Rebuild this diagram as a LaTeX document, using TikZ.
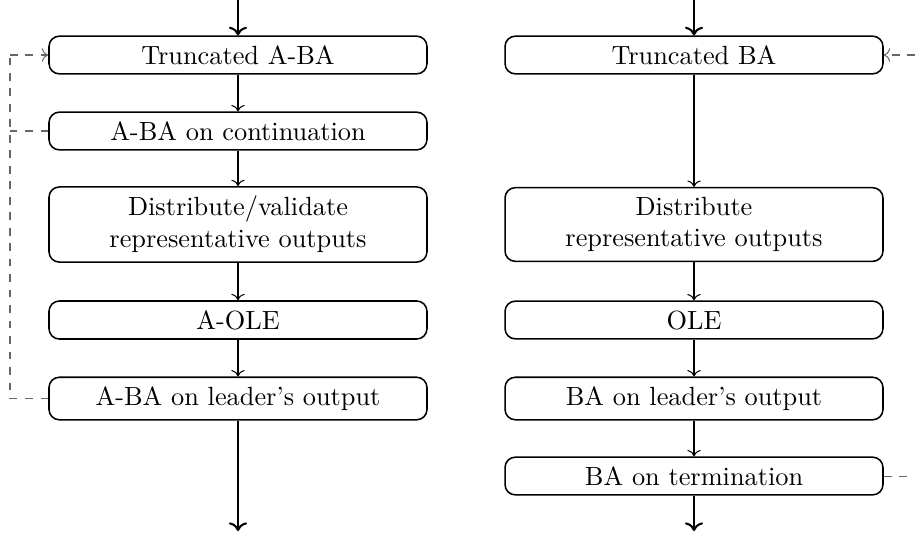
\documentclass[tikz,border=0pt]{standalone}
\usetikzlibrary{arrows.meta}
\begin{document}
\begin{tikzpicture}[x=0.3876pt,y=-0.3876pt,
  stage/.style={draw,semithick,rounded corners=4pt,minimum width=146.5pt,inner ysep=3.6pt,align=center,font=\fontsize{10.2pt}{12.3pt}\selectfont},
  flow/.style={->,thin},
  io/.style={->,thick},
  loop/.style={dashed,gray!80!black,thin}]
\useasboundingbox (0,0) rectangle (915,537);
% left column
\node[stage] (l1) at (238,55) {Truncated A-BA};
\node[stage] (l2) at (238,131) {A-BA on continuation};
\node[stage] (l3) at (238,224.5) {Distribute/validate\\representative outputs};
\node[stage] (l4) at (238,320) {A-OLE};
\node[stage] (l5) at (238,398.5) {A-BA on leader's output};
\coordinate (lin) at (238,0);
\coordinate (lout) at (238,531);
\draw[io] (lin) -- (l1);
\draw[flow] (l1) -- (l2);
\draw[flow] (l2) -- (l3);
\draw[flow] (l3) -- (l4);
\draw[flow] (l4) -- (l5);
\draw[io] (l5) -- (lout);
\coordinate (lc1) at (10,55);
\coordinate (lc2) at (10,131);
\coordinate (lc3) at (10,398.5);
\draw[loop] (l5.west) -- (lc3) -- (lc1);
\draw[loop,->] (lc1) -- (l1.west);
\draw[loop] (l2.west) -- (lc2);
% right column
\node[stage] (r1) at (694,55) {Truncated BA};
\node[stage] (r2) at (694,224.5) {Distribute\\representative outputs};
\node[stage] (r3) at (694,320) {OLE};
\node[stage] (r4) at (694,398.5) {BA on leader's output};
\node[stage] (r5) at (694,476) {BA on termination};
\coordinate (rin) at (694,0);
\coordinate (rout) at (694,531);
\draw[io] (rin) -- (r1);
\draw[flow] (r1) -- (r2);
\draw[flow] (r2) -- (r3);
\draw[flow] (r3) -- (r4);
\draw[flow] (r4) -- (r5);
\draw[io] (r5) -- (rout);
\coordinate (rc1) at (915,55);
\coordinate (rc2) at (915,476);
\draw[loop,->] (rc1) -- (r1.east);
\draw[loop] (r5.east) -- (rc2);
\end{tikzpicture}
\end{document}
